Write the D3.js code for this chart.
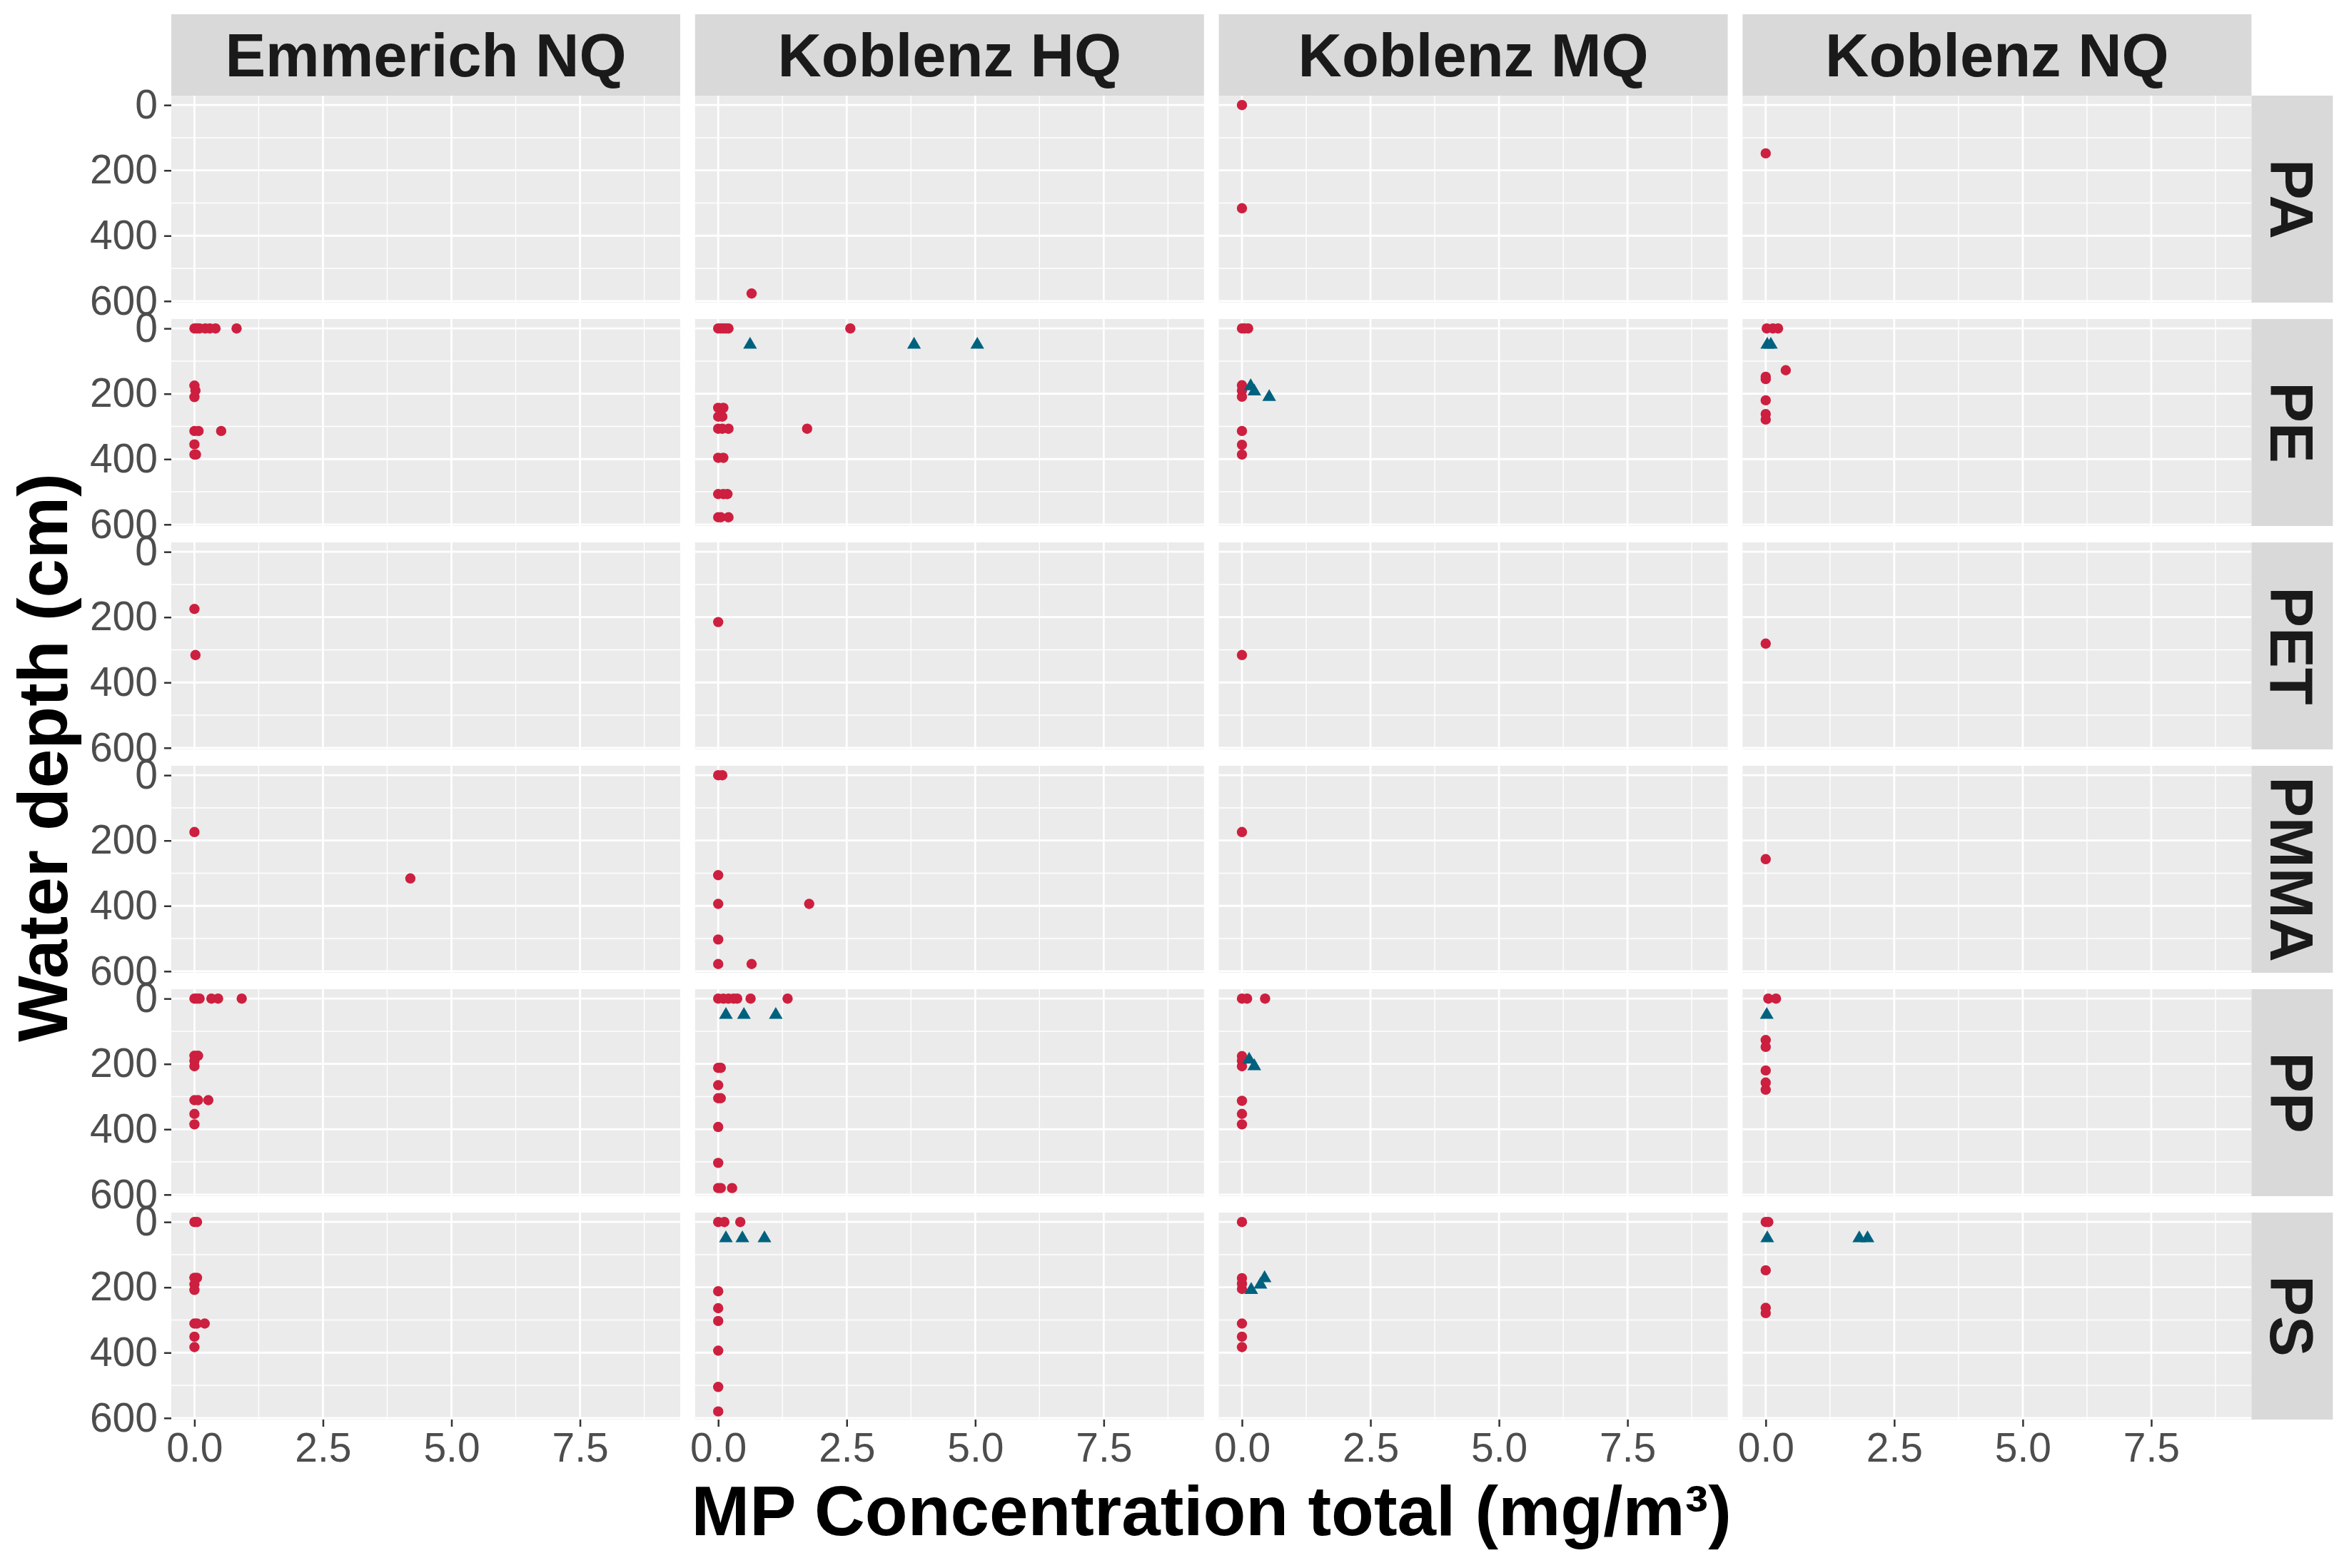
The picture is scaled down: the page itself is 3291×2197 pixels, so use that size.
<!DOCTYPE html>
<html>
<head>
<meta charset="utf-8">
<script src="https://cdn.jsdelivr.net/npm/d3@7"></script>
<style>
  body { margin: 0; background: #fff; }
  text { font-family: "Liberation Sans", Arial, sans-serif; }
</style>
</head>
<body>
<svg id="chart"></svg>
<script>
// Facet categories
const stations = ["Emmerich NQ", "Koblenz HQ", "Koblenz MQ", "Koblenz NQ"];
const polymers = ["PA", "PE", "PET", "PMMA", "PP", "PS"];

// Tick labels
const xTicks = [0, 2.5, 5, 7.5];
const xMinor = [1.25, 3.75, 6.25, 8.75];
const yTicks = [0, 200, 400, 600];
const yMinor = [100, 300, 500];

// [station, polymer, concentration mg/m3, depth cm] - circles
const circleSeries = [
  ["Emmerich NQ", "PE", 0, 0], ["Emmerich NQ", "PE", 0.05, 0], ["Emmerich NQ", "PE", 0.1, 0],
  ["Emmerich NQ", "PE", 0.21, 0], ["Emmerich NQ", "PE", 0.3, 0], ["Emmerich NQ", "PE", 0.41, 0],
  ["Emmerich NQ", "PE", 0.82, 0], ["Emmerich NQ", "PE", 0, 175], ["Emmerich NQ", "PE", 0.02, 190],
  ["Emmerich NQ", "PE", 0, 210], ["Emmerich NQ", "PE", 0, 314], ["Emmerich NQ", "PE", 0.08, 314],
  ["Emmerich NQ", "PE", 0.52, 314], ["Emmerich NQ", "PE", 0, 355], ["Emmerich NQ", "PE", 0, 386],
  ["Emmerich NQ", "PE", 0.03, 386],
  ["Emmerich NQ", "PET", 0, 175], ["Emmerich NQ", "PET", 0.02, 316],
  ["Emmerich NQ", "PMMA", 0, 174], ["Emmerich NQ", "PMMA", 4.2, 316],
  ["Emmerich NQ", "PP", 0, 0], ["Emmerich NQ", "PP", 0.05, 0], ["Emmerich NQ", "PP", 0.1, 0],
  ["Emmerich NQ", "PP", 0.33, 0], ["Emmerich NQ", "PP", 0.46, 0], ["Emmerich NQ", "PP", 0.92, 0],
  ["Emmerich NQ", "PP", 0, 175], ["Emmerich NQ", "PP", 0.07, 175], ["Emmerich NQ", "PP", 0, 191],
  ["Emmerich NQ", "PP", 0, 207], ["Emmerich NQ", "PP", 0, 311], ["Emmerich NQ", "PP", 0.07, 311],
  ["Emmerich NQ", "PP", 0.27, 311], ["Emmerich NQ", "PP", 0, 353], ["Emmerich NQ", "PP", 0, 385],
  ["Emmerich NQ", "PS", 0, 0], ["Emmerich NQ", "PS", 0.05, 0], ["Emmerich NQ", "PS", 0, 171],
  ["Emmerich NQ", "PS", 0.05, 171], ["Emmerich NQ", "PS", 0, 191], ["Emmerich NQ", "PS", 0, 208],
  ["Emmerich NQ", "PS", 0, 311], ["Emmerich NQ", "PS", 0.05, 311], ["Emmerich NQ", "PS", 0.2, 311],
  ["Emmerich NQ", "PS", 0, 351], ["Emmerich NQ", "PS", 0, 383],

  ["Koblenz HQ", "PA", 0.65, 577],
  ["Koblenz HQ", "PE", 0, 0], ["Koblenz HQ", "PE", 0.05, 0], ["Koblenz HQ", "PE", 0.1, 0],
  ["Koblenz HQ", "PE", 0.15, 0], ["Koblenz HQ", "PE", 0.2, 0], ["Koblenz HQ", "PE", 2.57, 0],
  ["Koblenz HQ", "PE", 0, 243], ["Koblenz HQ", "PE", 0.1, 243], ["Koblenz HQ", "PE", 0, 270],
  ["Koblenz HQ", "PE", 0.08, 270], ["Koblenz HQ", "PE", 0, 307], ["Koblenz HQ", "PE", 0.08, 307],
  ["Koblenz HQ", "PE", 0.2, 307], ["Koblenz HQ", "PE", 1.73, 307], ["Koblenz HQ", "PE", 0, 396],
  ["Koblenz HQ", "PE", 0.1, 396], ["Koblenz HQ", "PE", 0, 507], ["Koblenz HQ", "PE", 0.1, 507],
  ["Koblenz HQ", "PE", 0.18, 507], ["Koblenz HQ", "PE", 0, 578], ["Koblenz HQ", "PE", 0.05, 578],
  ["Koblenz HQ", "PE", 0.2, 578],
  ["Koblenz HQ", "PET", 0, 215],
  ["Koblenz HQ", "PMMA", 0, 0], ["Koblenz HQ", "PMMA", 0.08, 0], ["Koblenz HQ", "PMMA", 0, 306],
  ["Koblenz HQ", "PMMA", 0, 394], ["Koblenz HQ", "PMMA", 1.77, 394], ["Koblenz HQ", "PMMA", 0, 503],
  ["Koblenz HQ", "PMMA", 0, 578], ["Koblenz HQ", "PMMA", 0.65, 578],
  ["Koblenz HQ", "PP", 0, 0], ["Koblenz HQ", "PP", 0.1, 0], ["Koblenz HQ", "PP", 0.2, 0],
  ["Koblenz HQ", "PP", 0.3, 0], ["Koblenz HQ", "PP", 0.37, 0], ["Koblenz HQ", "PP", 0.63, 0],
  ["Koblenz HQ", "PP", 1.35, 0], ["Koblenz HQ", "PP", 0, 212], ["Koblenz HQ", "PP", 0.05, 212],
  ["Koblenz HQ", "PP", 0, 265], ["Koblenz HQ", "PP", 0, 305], ["Koblenz HQ", "PP", 0.05, 305],
  ["Koblenz HQ", "PP", 0, 393], ["Koblenz HQ", "PP", 0, 503], ["Koblenz HQ", "PP", 0, 580],
  ["Koblenz HQ", "PP", 0.05, 580], ["Koblenz HQ", "PP", 0.27, 580],
  ["Koblenz HQ", "PS", 0, 0], ["Koblenz HQ", "PS", 0.12, 0], ["Koblenz HQ", "PS", 0.43, 0],
  ["Koblenz HQ", "PS", 0, 212], ["Koblenz HQ", "PS", 0, 264], ["Koblenz HQ", "PS", 0, 303],
  ["Koblenz HQ", "PS", 0, 394], ["Koblenz HQ", "PS", 0, 505], ["Koblenz HQ", "PS", 0, 580],

  ["Koblenz MQ", "PA", 0, 0], ["Koblenz MQ", "PA", 0, 316],
  ["Koblenz MQ", "PE", 0, 0], ["Koblenz MQ", "PE", 0.05, 0], ["Koblenz MQ", "PE", 0.12, 0],
  ["Koblenz MQ", "PE", 0, 174], ["Koblenz MQ", "PE", 0, 190], ["Koblenz MQ", "PE", 0, 209],
  ["Koblenz MQ", "PE", 0, 314], ["Koblenz MQ", "PE", 0, 356], ["Koblenz MQ", "PE", 0, 386],
  ["Koblenz MQ", "PET", 0, 316],
  ["Koblenz MQ", "PMMA", 0, 174],
  ["Koblenz MQ", "PP", 0, 0], ["Koblenz MQ", "PP", 0.1, 0], ["Koblenz MQ", "PP", 0.45, 0],
  ["Koblenz MQ", "PP", 0, 176], ["Koblenz MQ", "PP", 0, 190], ["Koblenz MQ", "PP", 0, 207],
  ["Koblenz MQ", "PP", 0, 313], ["Koblenz MQ", "PP", 0, 353], ["Koblenz MQ", "PP", 0, 385],
  ["Koblenz MQ", "PS", 0, 0], ["Koblenz MQ", "PS", 0, 172], ["Koblenz MQ", "PS", 0, 189],
  ["Koblenz MQ", "PS", 0, 205], ["Koblenz MQ", "PS", 0, 311], ["Koblenz MQ", "PS", 0, 351],
  ["Koblenz MQ", "PS", 0, 383],

  ["Koblenz NQ", "PA", 0, 148],
  ["Koblenz NQ", "PE", 0.02, 0], ["Koblenz NQ", "PE", 0.14, 0], ["Koblenz NQ", "PE", 0.24, 0],
  ["Koblenz NQ", "PE", 0.39, 128], ["Koblenz NQ", "PE", 0, 148], ["Koblenz NQ", "PE", 0, 155],
  ["Koblenz NQ", "PE", 0, 220], ["Koblenz NQ", "PE", 0, 262], ["Koblenz NQ", "PE", 0, 279],
  ["Koblenz NQ", "PET", 0, 281],
  ["Koblenz NQ", "PMMA", 0, 257],
  ["Koblenz NQ", "PP", 0.05, 0], ["Koblenz NQ", "PP", 0.2, 0], ["Koblenz NQ", "PP", 0, 127],
  ["Koblenz NQ", "PP", 0, 148], ["Koblenz NQ", "PP", 0, 220], ["Koblenz NQ", "PP", 0, 257],
  ["Koblenz NQ", "PP", 0, 279],
  ["Koblenz NQ", "PS", 0, 0], ["Koblenz NQ", "PS", 0.05, 0], ["Koblenz NQ", "PS", 0, 148],
  ["Koblenz NQ", "PS", 0, 263], ["Koblenz NQ", "PS", 0, 279]
];

// [station, polymer, concentration mg/m3, depth cm] - triangles
const triangleSeries = [
  ["Koblenz HQ", "PE", 0.62, 50], ["Koblenz HQ", "PE", 3.81, 50], ["Koblenz HQ", "PE", 5.04, 50],
  ["Koblenz HQ", "PP", 0.15, 50], ["Koblenz HQ", "PP", 0.5, 50], ["Koblenz HQ", "PP", 1.12, 50],
  ["Koblenz HQ", "PS", 0.15, 50], ["Koblenz HQ", "PS", 0.47, 50], ["Koblenz HQ", "PS", 0.9, 50],
  ["Koblenz MQ", "PE", 0.17, 177], ["Koblenz MQ", "PE", 0.24, 193], ["Koblenz MQ", "PE", 0.53, 210],
  ["Koblenz MQ", "PP", 0.14, 187], ["Koblenz MQ", "PP", 0.24, 207],
  ["Koblenz MQ", "PS", 0.18, 208], ["Koblenz MQ", "PS", 0.36, 192], ["Koblenz MQ", "PS", 0.44, 172],
  ["Koblenz NQ", "PE", 0.03, 50], ["Koblenz NQ", "PE", 0.1, 50],
  ["Koblenz NQ", "PP", 0.02, 50],
  ["Koblenz NQ", "PS", 0.03, 50], ["Koblenz NQ", "PS", 1.82, 50], ["Koblenz NQ", "PS", 1.98, 50]
];

// Layout
const W = 3291, H = 2197;
const marginLeft = 240, marginTop = 134;
const panelW = 713, panelH = 290;
const gapX = 20.8, gapY = 23;
const stripH = 114, stripW = 114;
const red = "#CD1F3F", blue = "#00617F";

const svg = d3.select("#chart")
  .attr("width", W)
  .attr("height", H)
  .style("background", "#fff");

// Shared (fixed) scales, ggplot-like 5% expansion
const x = d3.scaleLinear().domain([-0.45, 9.45]).range([0, panelW]);
const y = d3.scaleLinear().domain([-28.8, 604.8]).range([0, panelH]);

const col = d3.scaleBand().domain(stations)
  .range([marginLeft, marginLeft + 4 * panelW + 3 * gapX])
  .paddingInner(gapX / (panelW + gapX));
const row = d3.scaleBand().domain(polymers)
  .range([marginTop, marginTop + 6 * panelH + 5 * gapY])
  .paddingInner(gapY / (panelH + gapY));

stations.forEach(st => {
  polymers.forEach(pm => {
    const g = svg.append("g")
      .attr("transform", `translate(${col(st)},${row(pm)})`);

    g.append("rect")
      .attr("width", panelW)
      .attr("height", panelH)
      .attr("fill", "#EBEBEB");

    // minor grid
    g.selectAll(".xminor").data(xMinor).enter().append("line")
      .attr("x1", d => x(d)).attr("x2", d => x(d))
      .attr("y1", 0).attr("y2", panelH)
      .attr("stroke", "#fff").attr("stroke-width", 1.4);
    g.selectAll(".yminor").data(yMinor).enter().append("line")
      .attr("y1", d => y(d)).attr("y2", d => y(d))
      .attr("x1", 0).attr("x2", panelW)
      .attr("stroke", "#fff").attr("stroke-width", 1.4);

    // major grid
    g.selectAll(".xmajor").data(xTicks).enter().append("line")
      .attr("x1", d => x(d)).attr("x2", d => x(d))
      .attr("y1", 0).attr("y2", panelH)
      .attr("stroke", "#fff").attr("stroke-width", 2.8);
    g.selectAll(".ymajor").data(yTicks).enter().append("line")
      .attr("y1", d => y(d)).attr("y2", d => y(d))
      .attr("x1", 0).attr("x2", panelW)
      .attr("stroke", "#fff").attr("stroke-width", 2.8);

    // circles
    g.selectAll(".pt")
      .data(circleSeries.filter(d => d[0] === st && d[1] === pm))
      .enter().append("circle")
      .attr("cx", d => x(d[2]))
      .attr("cy", d => y(d[3]))
      .attr("r", 7.2)
      .attr("fill", red);

    // triangles
    g.selectAll(".tri")
      .data(triangleSeries.filter(d => d[0] === st && d[1] === pm))
      .enter().append("path")
      .attr("d", d3.symbol().type(d3.symbolTriangle).size(160))
      .attr("transform", d => `translate(${x(d[2])},${y(d[3])})`)
      .attr("fill", blue);

    // x axis on bottom row
    if (pm === polymers[polymers.length - 1]) {
      const ax = g.append("g")
        .attr("transform", `translate(0,${panelH})`)
        .call(d3.axisBottom(x).tickValues(xTicks).tickFormat(d3.format(".1f")).tickSize(10).tickPadding(9));
      ax.select(".domain").remove();
      ax.selectAll("line").attr("stroke", "#333").attr("stroke-width", 2.5);
      ax.selectAll("text")
        .attr("font-size", 57)
        .attr("fill", "#4D4D4D")
        .attr("font-family", "Liberation Sans, Arial, sans-serif");
    }

    // y axis on left column
    if (st === stations[0]) {
      const ay = g.append("g")
        .call(d3.axisLeft(y).tickValues(yTicks).tickSize(10).tickPadding(9));
      ay.select(".domain").remove();
      ay.selectAll("line").attr("stroke", "#333").attr("stroke-width", 2.5);
      ay.selectAll("text")
        .attr("font-size", 57)
        .attr("fill", "#4D4D4D")
        .attr("font-family", "Liberation Sans, Arial, sans-serif");
    }
  });
});

// top strips
stations.forEach(st => {
  svg.append("rect")
    .attr("x", col(st)).attr("y", marginTop - stripH)
    .attr("width", panelW).attr("height", stripH)
    .attr("fill", "#D9D9D9");
  svg.append("text")
    .attr("x", col(st) + panelW / 2)
    .attr("y", marginTop - stripH / 2 + 30)
    .attr("text-anchor", "middle")
    .attr("font-size", 85)
    .attr("font-weight", "bold")
    .attr("fill", "#1A1A1A")
    .text(st);
});

// right strips
const stripX = col(stations[stations.length - 1]) + panelW;
polymers.forEach(pm => {
  svg.append("rect")
    .attr("x", stripX).attr("y", row(pm))
    .attr("width", stripW).attr("height", panelH)
    .attr("fill", "#D9D9D9");
  const cx = stripX + stripW / 2, cy = row(pm) + panelH / 2;
  svg.append("text")
    .attr("transform", `translate(${cx - 30},${cy}) rotate(90)`)
    .attr("text-anchor", "middle")
    .attr("font-size", 85)
    .attr("font-weight", "bold")
    .attr("fill", "#1A1A1A")
    .text(pm);
});

// axis titles
const panelsBottom = row(polymers[polymers.length - 1]) + panelH;
svg.append("text")
  .attr("x", (marginLeft + stripX) / 2)
  .attr("y", 2151)
  .attr("text-anchor", "middle")
  .attr("font-size", 98)
  .attr("font-weight", "bold")
  .attr("fill", "#000")
  .text("MP Concentration total (mg/m³)");

svg.append("text")
  .attr("transform", `translate(94,${(marginTop + panelsBottom) / 2}) rotate(-90)`)
  .attr("text-anchor", "middle")
  .attr("font-size", 98)
  .attr("font-weight", "bold")
  .attr("fill", "#000")
  .text("Water depth (cm)");
</script>
</body>
</html>
